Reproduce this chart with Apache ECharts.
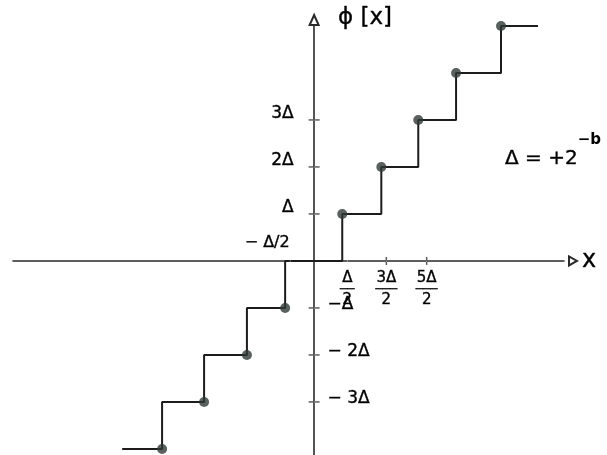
<!DOCTYPE html>
<html><head><meta charset="utf-8">
<script src="https://cdn.jsdelivr.net/npm/echarts@6/dist/echarts.min.js"></script>
<style>html,body{margin:0;padding:0;background:#fff}#c{width:607px;height:455px}</style>
</head><body><div id="c"></div>
<script>
// staircase (x in units of Δ)
const risers = [-3.62, -2.62, -1.60, -0.69, 0.67, 1.60, 2.48, 3.38, 4.45];
const levels = [-4, -3, -2, -1, 0, 1, 2, 3, 4, 5];
const lineStart = -4.57;
const lineEnd = 5.33;
const dotLevels = [-4, -3, -2, -1, 1, 2, 3, 4, 5];
// tick labels
const yTickPos = [1, 2, 3];
const yTickPosLabels = ['Δ', '2Δ', '3Δ'];
const yTickNeg = [-1, -2, -3];
const yTickNegLabels = ['−Δ', '− 2Δ', '− 3Δ'];
const xTicks = [1.72, 2.68];
const xLabelVals = [0.79, 1.72, 2.68];
const xLabelNum = ['Δ', '3Δ', '5Δ'];
const xLabelDen = ['2', '2', '2'];
const xTopLabelVals = [-0.57];
const xTopLabels = ['− Δ/2'];

const FONT = 'DejaVu Sans';
const INK = '#000';

const lineData = [[lineStart, levels[0]]]
  .concat(risers.map((r, i) => [r, levels[i + 1]]))
  .concat([[lineEnd, levels[levels.length - 1]]]);
const dotData = risers.map((r, i) => [r, dotLevels[i]]);
const yTickData = yTickPos.concat(yTickNeg).map(v => [0, v]);
const xTickData = xTicks.map(v => [v, 0]);

const textBase = {color: INK, fontFamily: FONT, fontWeight: 'normal'};
const inkText = Object.assign({}, textBase, {opacity: 1, textBorderColor: '#222', textBorderWidth: 0.4});

function labelSeries(points, label) {
  return {type: 'scatter', data: points, symbol: 'circle', symbolSize: 1, silent: true, z: 5,
          itemStyle: {color: '#fff', opacity: 1},
          label: Object.assign({show: true}, inkText, label)};
}

const chart = echarts.init(document.getElementById('c'), null, {renderer: 'canvas'});
chart.setOption({
  backgroundColor: '#fff',
  animation: false,
  title: [
    {text: 'ϕ [x]', left: 338, top: 7, padding: 0,
     textStyle: Object.assign({fontSize: 23}, inkText)},
    {text: '{m|Δ = +2}{s|−b}', left: 505, top: 133, padding: 0,
     textStyle: {fontWeight: 'normal', rich: {
       m: Object.assign({fontSize: 20, lineHeight: 36, verticalAlign: 'bottom'}, inkText),
       s: Object.assign({fontSize: 15, lineHeight: 36, verticalAlign: 'top'}, textBase, {fontWeight: 'bold'})
     }}}
  ],
  grid: {left: 13, top: 25, width: 551, height: 433.34, containLabel: false, outerBoundsMode: 'none'},
  xAxis: {type: 'value', min: -7.17, max: 5.95,
     axisLine: {onZero: true, lineStyle: {color: '#2a2a2a', width: 1.6},
                symbol: ['none', 'emptyTriangle'], symbolSize: [9, 8], symbolOffset: [0, 9]},
     axisTick: {show: false}, splitLine: {show: false}, axisLabel: {show: false},
     name: 'x', nameLocation: 'end', nameGap: 18,
     nameTextStyle: Object.assign({fontSize: 24, verticalAlign: 'middle', padding: [0, 0, 4, 0]}, inkText)},
  yAxis: {type: 'value', min: -4.2, max: 5.02,
     axisLine: {onZero: true, lineStyle: {color: '#2a2a2a', width: 1.6},
                symbol: ['none', 'emptyTriangle'], symbolSize: [9, 10], symbolOffset: [0, 5]},
     axisTick: {show: false}, splitLine: {show: false}, axisLabel: {show: false}},
  series: [
    {type: 'line', step: 'end', data: lineData, symbol: 'none', z: 3,
     lineStyle: {color: '#1c1c1c', width: 2}},
    {type: 'scatter', data: dotData, symbol: 'circle', symbolSize: 10, z: 4,
     itemStyle: {color: '#2e3a35'}},
    {type: 'scatter', data: yTickData, symbol: 'rect', symbolSize: [11, 1.5], z: 2,
     itemStyle: {color: '#333'}},
    {type: 'scatter', data: xTickData, symbol: 'rect', symbolSize: [1.5, 8], z: 2,
     itemStyle: {color: '#333'}},
    labelSeries(yTickPos.map((v, i) => ({value: [0, v], name: yTickPosLabels[i]})),
      {position: 'left', distance: 20, offset: [0, -6], fontSize: 17, formatter: p => p.name}),
    labelSeries(yTickNeg.map((v, i) => ({value: [0, v], name: yTickNegLabels[i]})),
      {position: 'right', distance: 13, offset: [0, -3], fontSize: 17, formatter: p => p.name}),
    labelSeries(xTopLabelVals.map((v, i) => ({value: [v, 0], name: xTopLabels[i]})),
      {position: 'left', distance: 0, offset: [0, -18], fontSize: 16, formatter: p => p.name}),
    labelSeries(xLabelVals.map((v, i) => ({value: [v, 0], name: String(i)})),
      {position: 'bottom', distance: 9,
       formatter: p => {
         const i = +p.name;
         const bar = xLabelNum[i].length > 1 ? '───' : '──';
         return '{n|' + xLabelNum[i] + '}\n{b|' + bar + '}\n{d|' + xLabelDen[i] + '}';
       },
       rich: {
         n: Object.assign({fontSize: 15, lineHeight: 16, align: 'center'}, inkText),
         b: Object.assign({fontSize: 12, lineHeight: 6, align: 'center'}, inkText),
         d: Object.assign({fontSize: 15, lineHeight: 15, align: 'center'}, inkText)
       }})
  ]
});
</script></body></html>
